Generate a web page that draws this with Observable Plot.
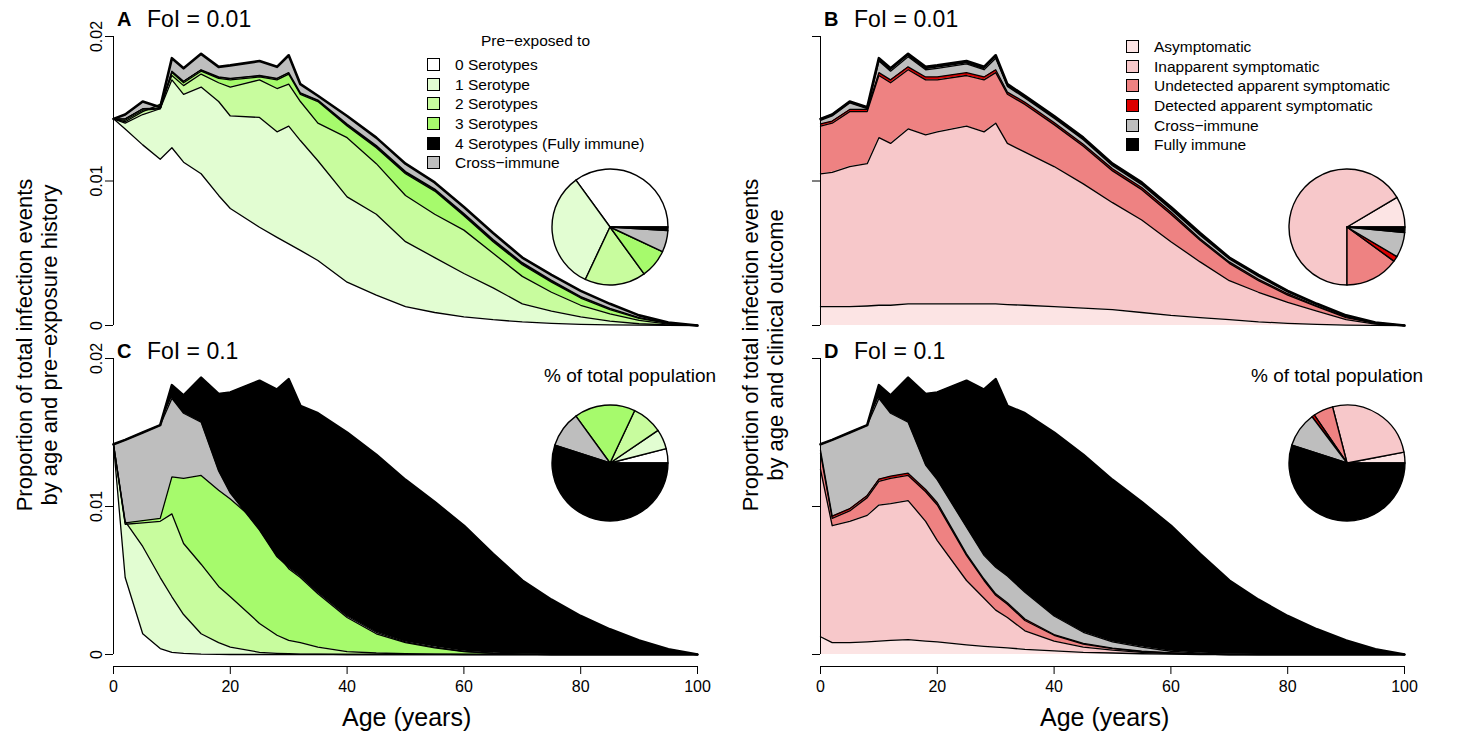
<!DOCTYPE html>
<html>
<head>
<meta charset="utf-8">
<script src="https://cdn.jsdelivr.net/npm/d3@7"></script>
<script src="https://cdn.jsdelivr.net/npm/@observablehq/plot@0.6"></script>
<style>
  body { margin: 0; background: #fff; font-family: "Liberation Sans", Arial, sans-serif; }
  #wrap { position: relative; width: 1457px; height: 738px; overflow: hidden; }
  .pnl { position: absolute; }
  .abs { position: absolute; white-space: nowrap; color: #000; }
  .ylab { position: absolute; font-size: 22px; line-height: 25px; text-align: center; width: 400px;
          transform: rotate(-90deg); transform-origin: center center; }
  .leg div { height: 19.7px; font-size: 15.5px; line-height: 19.7px; }
  .leg span.sw { display: inline-block; width: 11px; height: 11px; border: 1px solid #000; margin-right: 15px; vertical-align: -1px; }
</style>
</head>
<body>
<div id="wrap"></div>
<script>
// ages where boundaries were read (years)
const ages = [0,2,5,8,10,12,15,18,20,25,28,30,32,35,40,45,50,55,60,65,70,75,80,85,90,95,100];

// cumulative boundaries, proportion x 1000
// Panel A (FoI 0.01, pre-exposure history)
const aZero  = [14.3,13.6,12.5,11.5,12.3,11.3,10.5,9.0,8.1,6.8,6.1,5.65,5.2,4.5,3.0,2.1,1.3,0.9,0.6,0.4,0.25,0.15,0.08,0.04,0.02,0.01,0];
const aOne   = [14.3,14.0,14.6,15.0,17.0,16.0,16.5,15.5,14.5,14.4,13.4,13.8,12.8,11.4,8.9,7.7,5.8,4.7,3.6,2.6,1.5,1.0,0.6,0.3,0.12,0.04,0];
const aTwo   = [14.3,14.1,14.8,15.3,17.3,16.6,17.4,16.8,16.5,17.0,16.4,16.7,15.5,14.0,13.0,11.2,9.0,7.7,6.6,5.0,3.4,2.3,1.4,0.8,0.35,0.1,0];
const aThree = [14.3,14.2,14.9,15.0,17.5,16.8,17.6,17.1,17.0,17.2,17.0,17.4,16.0,15.5,13.8,12.3,10.5,9.3,7.6,5.8,4.2,3.0,1.9,1.1,0.5,0.15,0];
const aFour  = [14.3,14.3,15.0,15.05,17.6,16.9,17.7,17.2,17.1,17.3,17.1,17.5,16.1,15.6,13.95,12.45,10.65,9.45,7.75,5.95,4.35,3.12,2.0,1.18,0.55,0.16,0];
const aTotal = [14.3,14.6,15.5,15.1,18.5,17.8,18.8,17.9,18.0,18.3,17.9,18.7,16.7,15.9,14.5,13.0,11.2,9.9,8.2,6.4,4.7,3.5,2.4,1.5,0.7,0.2,0];

// Panel B (FoI 0.01, clinical outcome)
const bAsym  = [1.3,1.3,1.3,1.35,1.4,1.4,1.5,1.5,1.5,1.5,1.5,1.5,1.45,1.4,1.3,1.2,1.1,0.9,0.7,0.55,0.4,0.25,0.15,0.08,0.03,0.01,0];
const bInap  = [10.5,10.6,11.0,11.2,13.0,12.6,13.6,13.2,13.4,13.8,13.4,14.0,12.6,12.0,11.0,9.8,8.5,7.3,5.8,4.4,3.1,2.3,1.6,1.0,0.4,0.1,0];
const bUndet = [13.8,14.0,14.8,14.8,17.3,16.8,17.7,17.0,17.0,17.3,17.0,17.5,16.0,15.3,13.9,12.4,10.7,9.4,7.7,5.9,4.3,3.1,2.1,1.3,0.55,0.15,0];
const bDet   = [13.95,14.15,14.95,14.95,17.5,17.0,17.9,17.2,17.2,17.5,17.2,17.7,16.15,15.45,14.05,12.55,10.85,9.55,7.85,6.0,4.4,3.2,2.2,1.35,0.6,0.17,0];
const bCross = [14.2,14.5,15.4,15.0,18.3,17.6,18.6,17.7,17.8,18.1,17.7,18.5,16.55,15.75,14.35,12.85,11.05,9.75,8.05,6.25,4.6,3.4,2.33,1.45,0.66,0.19,0];
const bTotal = aTotal;

// Panel C (FoI 0.1, pre-exposure history)
const cZero  = [14.2,5.2,1.4,0.4,0.15,0.08,0.03,0.01,0,0,0,0,0,0,0,0,0,0,0,0,0,0,0,0,0,0,0];
const cOne   = [14.2,9.0,7.3,5.2,3.9,2.7,1.4,0.8,0.5,0.15,0.08,0.05,0.03,0.02,0,0,0,0,0,0,0,0,0,0,0,0,0];
const cTwo   = [14.2,8.8,8.9,9.0,9.5,7.5,6.1,4.6,3.9,2.1,1.3,0.95,0.8,0.5,0.2,0.1,0.05,0.02,0,0,0,0,0,0,0,0,0];
const cThree = [14.2,8.9,9.05,9.2,12.0,11.9,12.1,11.1,10.5,8.8,6.8,5.8,5.2,4.1,2.5,1.4,0.8,0.45,0.2,0.08,0.03,0,0,0,0,0,0];
const cCross = [14.2,14.5,15.0,15.5,17.3,16.3,15.7,12.4,10.9,8.4,6.6,5.9,5.3,4.2,2.6,1.5,0.85,0.5,0.22,0.09,0.03,0,0,0,0,0,0];
const cTotal = [14.2,14.5,15.0,15.5,18.2,17.5,18.7,17.6,17.7,18.5,17.9,18.6,16.8,16.3,15.0,13.5,11.8,10.3,8.7,6.8,5.0,3.7,2.6,1.7,0.95,0.35,0];

// Panel D (FoI 0.1, clinical outcome)
const dAsym  = [1.2,0.8,0.8,0.85,0.9,0.95,1.0,0.9,0.85,0.65,0.55,0.5,0.45,0.35,0.25,0.15,0.1,0.05,0.02,0,0,0,0,0,0,0,0];
const dInap  = [12.5,8.7,9.0,9.4,10.1,10.2,10.4,9.0,7.7,5.0,3.8,3.0,2.5,1.6,0.9,0.5,0.3,0.15,0.06,0.02,0,0,0,0,0,0,0];
const dUndet = [13.6,9.2,9.7,10.6,11.7,11.9,12.1,11.0,10.1,6.7,5.0,4.0,3.4,2.3,1.3,0.7,0.4,0.2,0.1,0.03,0,0,0,0,0,0,0];
const dDet   = [13.8,9.35,9.85,10.75,11.85,12.05,12.25,11.15,10.25,6.8,5.1,4.1,3.5,2.4,1.35,0.75,0.43,0.22,0.11,0.03,0,0,0,0,0,0,0];
const dCross = [14.2,14.5,15.0,15.5,17.3,16.3,15.7,12.8,11.8,8.6,6.7,5.9,5.3,4.2,2.6,1.5,0.85,0.5,0.22,0.09,0.03,0,0,0,0,0,0];
const dTotal = cTotal;

// pie shares (fractions of total population), counter-clockwise from 3 o'clock
const pieA = [0.35,0.33,0.17,0.08,0.06,0.01];
const pieB = [0.085,0.665,0.15,0.015,0.07,0.015];
const pieC = [0.04,0.055,0.085,0.17,0.10,0.55];
const pieD = [0.03,0.26,0.055,0.008,0.097,0.55];

const greens = ["#ffffff","#e2fdd2","#c8fc9e","#a6fa6c","#000000","#bebebe"];
const reds   = ["#fce4e4","#f7c8ca","#ee8282","#dd0000","#bebebe","#000000"];
const greenNames = ["0 Serotypes","1 Serotype","2 Serotypes","3 Serotypes","4 Serotypes (Fully immune)","Cross\u2212immune"];
const redNames = ["Asymptomatic","Inapparent symptomatic","Undetected apparent symptomatic","Detected apparent symptomatic","Cross\u2212immune","Fully immune"];

// colours of the stacked bands / pie slices, in drawing order
const stackA = [greens[0],greens[1],greens[2],greens[3],greens[4],greens[5]];
const stackC = [greens[0],greens[1],greens[2],greens[3],greens[5],greens[4]];
const pieGreens = stackC;

const wrap = document.getElementById("wrap");

function pieMark(shares, colors, cx, cy, r) {
  return () => {
    const arcs = d3.pie().sort(null).startAngle(Math.PI / 2).endAngle(Math.PI / 2 - 2 * Math.PI)(shares);
    const arc = d3.arc().innerRadius(0).outerRadius(r);
    const g = d3.create("svg:g").attr("transform", `translate(${cx},${cy})`);
    g.selectAll("path").data(arcs).join("path")
      .attr("d", arc).attr("fill", (d, i) => colors[i])
      .attr("stroke", "#000").attr("stroke-width", 1.4).attr("stroke-linejoin", "round");
    return g.node();
  };
}

function build(cfg) {
  const pieX = cfg.left ? 610 : 640;
  const bands = cfg.bounds.map((b, i) => ages.map((a, j) => ({age: a, lo: i ? cfg.bounds[i - 1][j] : 0, hi: b[j]})));
  const height = cfg.bottom ? 416 : 330;
  const marks = [];
  bands.forEach((band, i) => marks.push(Plot.areaY(band, {x: "age", y1: "lo", y2: "hi", fill: cfg.colors[i]})));
  cfg.bounds.forEach((b, i) => {
    const last = i === cfg.bounds.length - 1;
    marks.push(Plot.line(ages, {x: d => d, y: (d, j) => b[j], stroke: "#000", strokeWidth: last ? 2.6 : 1.3}));
  });
  marks.push(Plot.ruleX([0], {y1: 0, y2: 20, stroke: "#000", strokeWidth: 1}));
  marks.push(Plot.axisY({ticks: [0, 10, 20], tickFormat: cfg.left ? (d => String(d / 1000)) : (() => ""),
    tickRotate: -90, tickSize: 8, tickPadding: 4, fontSize: 16, label: null}));
  if (cfg.bottom) {
    marks.push(Plot.ruleY([0], {x1: 0, x2: 100, dy: 12, stroke: "#000"}));
    marks.push(Plot.axisX({ticks: d3.range(0, 101, 20), tickSize: 8, tickPadding: 6, fontSize: 16, label: null, dy: 12}));
  }
  marks.push(pieMark(cfg.pie, cfg.pieColors, pieX, cfg.pieY, 58));
  const chart = Plot.plot({
    width: 720, height,
    marginLeft: 113, marginRight: 23, marginTop: 36, marginBottom: cfg.bottom ? 84 : 5,
    x: {domain: [0, 100], axis: null},
    y: {domain: [0, 20], axis: null},
    style: {fontFamily: "Liberation Sans, Arial, sans-serif", fontSize: "16px", color: "#000", overflow: "visible"},
    marks
  });
  chart.classList.add("pnl");
  chart.style.left = (cfg.left ? 0 : 707) + "px";
  chart.style.top = (cfg.top ? 0 : 322) + "px";
  wrap.append(chart);
}

build({bounds: [aZero,aOne,aTwo,aThree,aFour,aTotal], colors: stackA, pie: pieA, pieColors: pieGreens, pieY: 227, left: true, top: true});
build({bounds: [bAsym,bInap,bUndet,bDet,bCross,bTotal], colors: reds, pie: pieB, pieColors: reds, pieY: 227, left: false, top: true});
build({bounds: [cZero,cOne,cTwo,cThree,cCross,cTotal], colors: stackC, pie: pieC, pieColors: pieGreens, pieY: 141, left: true, top: false, bottom: true});
build({bounds: [dAsym,dInap,dUndet,dDet,dCross,dTotal], colors: reds, pie: pieD, pieColors: reds, pieY: 141, left: false, top: false, bottom: true});

function addText(html, x, y, css) {
  const d = document.createElement("div");
  d.className = "abs";
  d.innerHTML = html;
  d.style.left = x + "px"; d.style.top = y + "px";
  Object.assign(d.style, css || {});
  wrap.append(d);
  return d;
}
// panel letters and FoI titles
[["A", 117, 6, "FoI = 0.01"], ["B", 824, 6, "FoI = 0.01"], ["C", 117, 338, "FoI = 0.1"], ["D", 824, 338, "FoI = 0.1"]].forEach(([l, x, y, t]) => {
  addText(l, x, y + 2, {fontSize: "20px", fontWeight: "bold"});
  addText(t, x + 30, y, {fontSize: "23px"});
});
addText("% of total population", 544, 365, {fontSize: "19px"});
addText("% of total population", 1251, 365, {fontSize: "19px"});
addText("Age (years)", 342, 703, {fontSize: "25px"});
addText("Age (years)", 1040, 703, {fontSize: "25px"});

// y-axis titles
function ylab(lines, cx) {
  const d = document.createElement("div");
  d.className = "ylab";
  d.innerHTML = lines.join("<br>");
  d.style.left = (cx - 200) + "px";
  d.style.top = (345 - 25) + "px";
  wrap.append(d);
}
ylab(["Proportion of total infection events", "by age and pre\u2212exposure history"], 37);
ylab(["Proportion of total infection events", "by age and clinical outcome"], 763);

// legends
function legend(names, colors, x, y) {
  const box = document.createElement("div");
  box.className = "abs leg";
  box.style.left = x + "px"; box.style.top = y + "px";
  names.forEach((n, i) => {
    const row = document.createElement("div");
    row.innerHTML = `<span class="sw" style="background:${colors[i]}"></span>${n}`;
    box.append(row);
  });
  wrap.append(box);
}
addText("Pre\u2212exposed to", 481, 32, {fontSize: "15.5px"});
legend(greenNames, greens, 427, 55);
legend(redNames, reds, 1126, 37);
</script>
</body>
</html>
